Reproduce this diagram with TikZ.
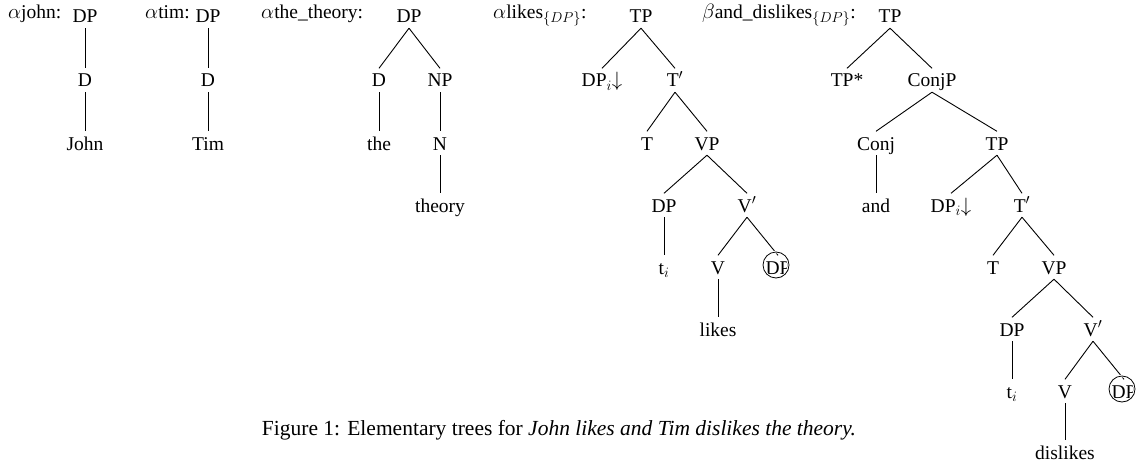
\documentclass[tikz,border=0pt]{standalone}
\usepackage{fontspec}
\setmainfont{Liberation Serif}
\begin{document}
\begin{tikzpicture}[x=1pt,y=-1pt,
  n/.style={anchor=base,inner xsep=1pt,inner ysep=5pt,text height=13.5pt,text depth=0pt,font=\fontsize{19.5}{22}\selectfont},
  lab/.style={anchor=base west,inner sep=0pt,font=\fontsize{19.5}{22}\selectfont},
  edge/.style={line width=0.9pt},
  ring/.style={white,line width=2.6pt},
  circ/.style={line width=0.8pt}]
\useasboundingbox (0,0) rectangle (1139,468);
% rows baselines
\def\ra{23}\def\rb{87}\def\rc{150}\def\rd{212}\def\re{274}\def\rf{336}\def\rg{398}\def\rh{459}
% Tree 1
\node[lab] (l1) at (8,19) {$\alpha$john:};
\node[n] (a0) at (85,\ra) {DP};
\node[n] (a1) at (85,\rb) {D};
\node[n] (a2) at (85,\rc) {John};
\draw[edge] (a0.south) -- (a1.north);
\draw[edge] (a1.south) -- (a2.north);
% Tree 2
\node[lab] (l2) at (145,19) {$\alpha$tim:};
\node[n] (b0) at (208,\ra) {DP};
\node[n] (b1) at (208,\rb) {D};
\node[n] (b2) at (208,\rc) {Tim};
\draw[edge] (b0.south) -- (b1.north);
\draw[edge] (b1.south) -- (b2.north);
% Tree 3
\node[lab] (l3) at (261,19) {$\alpha$the\_theory:};
\node[n] (c0) at (409,\ra) {DP};
\node[n] (c1) at (379,\rb) {D};
\node[n] (c2) at (440,\rb) {NP};
\node[n] (c3) at (379,\rc) {the};
\node[n] (c4) at (440,\rc) {N};
\node[n] (c5) at (440,\rd) {theory};
\draw[edge] (c0.south) -- (c1.north);
\draw[edge] (c0.south) -- (c2.north);
\draw[edge] (c1.south) -- (c3.north);
\draw[edge] (c2.south) -- (c4.north);
\draw[edge] (c4.south) -- (c5.north);
% Tree 4
\node[lab] (l4) at (493,19) {$\alpha$likes$_{\{DP\}}$:};
\node[n] (d0) at (641,\ra) {TP};
\node[n] (d1) at (602,\rb) {DP$_i$$\downarrow$};
\node[n] (d2) at (675,\rb) {T$'$};
\node[n] (d3) at (647,\rc) {T};
\node[n] (d4) at (707,\rc) {VP};
\node[n] (d5) at (664,\rd) {DP};
\node[n] (d6) at (747,\rd) {V$'$};
\node[n] (d7) at (664,\re) {t$_i$};
\node[n] (d8) at (718,\re) {V};
\node[n] (d9) at (778,\re) {DP};
\node[n] (d10) at (718,\rf) {likes};
\draw[edge] (d0.south) -- (d1.north);
\draw[edge] (d0.south) -- (d2.north);
\draw[edge] (d2.south) -- (d3.north);
\draw[edge] (d2.south) -- (d4.north);
\draw[edge] (d4.south) -- (d5.north);
\draw[edge] (d4.south) -- (d6.north);
\draw[edge] (d5.south) -- (d7.north);
\draw[edge] (d6.south) -- (d8.north);
\draw[edge] (d6.south) -- (d9.north);
\draw[edge] (d8.south) -- (d10.north);
\draw[ring] ([xshift=-2pt,yshift=9pt]d9.base) circle (13pt);
\draw[circ] ([xshift=-2pt,yshift=9pt]d9.base) circle (13pt);
% Tree 5
\node[lab] (l5) at (702,19) {$\beta$and\_dislikes$_{\{DP\}}$:};
\node[n] (e0) at (890,\ra) {TP};
\node[n] (e1) at (847,\rb) {TP*};
\node[n] (e2) at (932,\rb) {ConjP};
\node[n] (e3) at (876,\rc) {Conj};
\node[n] (e4) at (997,\rc) {TP};
\node[n] (e5) at (876,\rd) {and};
\node[n] (e6) at (951,\rd) {DP$_i$$\downarrow$};
\node[n] (e7) at (1022,\rd) {T$'$};
\node[n] (e8) at (993,\re) {T};
\node[n] (e9) at (1054,\re) {VP};
\node[n] (e10) at (1012,\rf) {DP};
\node[n] (e11) at (1093,\rf) {V$'$};
\node[n] (e12) at (1012,\rg) {t$_i$};
\node[n] (e13) at (1065,\rg) {V};
\node[n] (e14) at (1124,\rg) {DP};
\node[n] (e15) at (1065,\rh) {dislikes};
\draw[edge] (e0.south) -- (e1.north);
\draw[edge] (e0.south) -- (e2.north);
\draw[edge] (e2.south) -- (e3.north);
\draw[edge] (e2.south) -- (e4.north);
\draw[edge] (e3.south) -- (e5.north);
\draw[edge] (e4.south) -- (e6.north);
\draw[edge] (e4.south) -- (e7.north);
\draw[edge] (e7.south) -- (e8.north);
\draw[edge] (e7.south) -- (e9.north);
\draw[edge] (e9.south) -- (e10.north);
\draw[edge] (e9.south) -- (e11.north);
\draw[edge] (e10.south) -- (e12.north);
\draw[edge] (e11.south) -- (e13.north);
\draw[edge] (e11.south) -- (e14.north);
\draw[edge] (e13.south) -- (e15.north);
\draw[ring] ([xshift=-2pt,yshift=9pt]e14.base) circle (13pt);
\draw[circ] ([xshift=-2pt,yshift=9pt]e14.base) circle (13pt);
% Caption
\node[anchor=base,inner sep=0pt,font=\fontsize{21.5}{24}\selectfont] (cap) at (559,435) {Figure 1: Elementary trees for \textit{John likes and Tim dislikes the theory.}};
\end{tikzpicture}
\end{document}
